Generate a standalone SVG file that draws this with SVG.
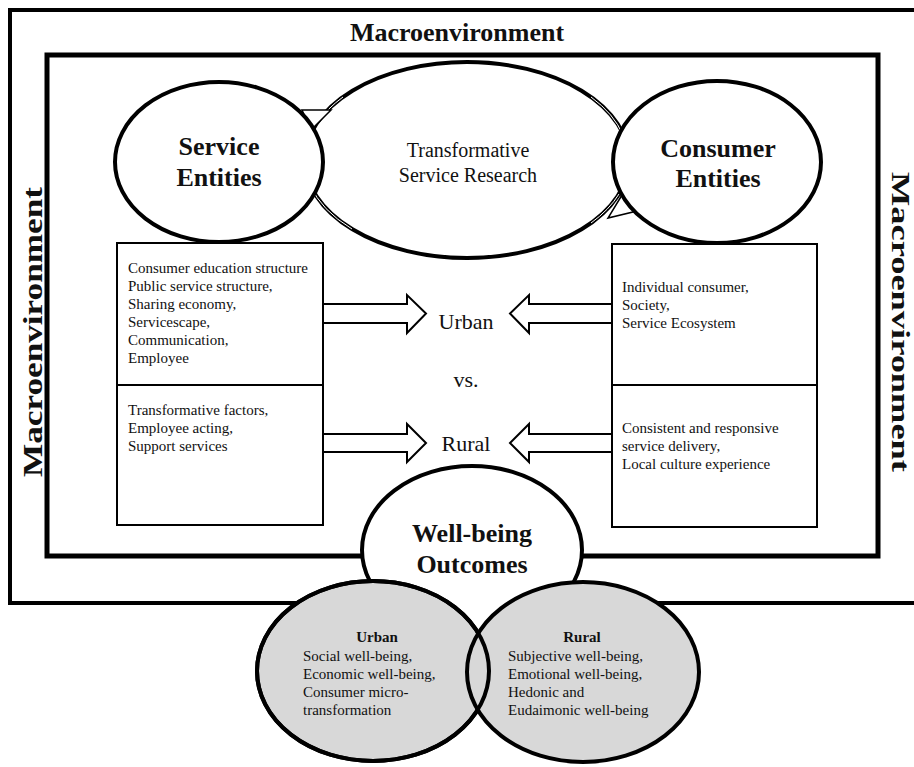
<svg xmlns="http://www.w3.org/2000/svg" width="914" height="767" viewBox="0 0 914 767">
<style>
.serif{font-family:"Liberation Serif","Times New Roman",serif;fill:#111}
.b{font-weight:bold}
.body{font-size:15px}
.big{font-size:26px;font-weight:bold;text-anchor:middle}
.frame{fill:none;stroke:#000}
.ell{fill:#fff;stroke:#000;stroke-width:4}
.gray{fill:#d8d8d8;stroke:#000;stroke-width:4}
.box{fill:#fff;stroke:#000;stroke-width:2}
.blk{fill:#fff;stroke:#000;stroke-width:2;stroke-linejoin:miter}
.head{fill:#fff;stroke:#000;stroke-width:1.5}
</style>
<rect width="914" height="767" fill="#fff"/>
<g id="macro-frame">
<rect class="frame" x="10" y="10" width="910" height="593" stroke-width="4"/>
<rect class="frame" x="47" y="55" width="831" height="501" stroke-width="5"/>
<text class="serif b" x="457" y="41" font-size="26" text-anchor="middle">Macroenvironment</text>
<text class="serif b" font-size="27" text-anchor="middle" textLength="290" lengthAdjust="spacingAndGlyphs" transform="translate(42,332) rotate(-90)">Macroenvironment</text>
<text class="serif b" font-size="26" text-anchor="middle" textLength="300" lengthAdjust="spacingAndGlyphs" transform="translate(892,322) rotate(90)">Macroenvironment</text>
</g>
<g id="tsr">
<ellipse cx="467" cy="160" rx="162" ry="98" fill="#fff" stroke="#000" stroke-width="4"/>
<path d="M343 97 A162 98 0 0 0 318 122 M591 97 A162 98 0 0 1 623 135 M310 185 A162 98 0 0 0 352 229 M591 223 A162 98 0 0 0 619 194" fill="none" stroke="#fff" stroke-width="1"/>
<polygon class="head" points="302,110 331,110 311,130"/>
<polygon class="head" points="622,195 608,218 637,211"/>
<text class="serif" x="468" y="157" font-size="20" text-anchor="middle">Transformative</text>
<text class="serif" x="468" y="182" font-size="20" text-anchor="middle">Service Research</text>
</g>
<g id="service-entities">
<ellipse class="ell" cx="219" cy="162" rx="104" ry="80"/>
<text class="serif big" x="219" y="155">Service</text>
<text class="serif big" x="219" y="186">Entities</text>
</g>
<g id="consumer-entities">
<ellipse class="ell" cx="717" cy="162" rx="104" ry="81"/>
<text class="serif big" x="718" y="157">Consumer</text>
<text class="serif big" x="718" y="187">Entities</text>
</g>
<g id="connectors">
<polygon class="blk" points="323,304 407,304 407,295 426,313.5 407,333 407,323 323,323"/>
<polygon class="blk" points="612,304 529,304 529,295 510,313.5 529,333 529,323 612,323"/>
<polygon class="blk" points="323,434 407,434 407,424 426,443 407,462 407,452 323,452"/>
<polygon class="blk" points="612,434 529,434 529,424 510,443 529,462 529,452 612,452"/>
</g>
<g id="service-urban-box">
<rect class="box" x="117" y="243" width="206" height="142"/>
<text class="serif body"><tspan x="128" y="273">Consumer education structure</tspan><tspan x="128" y="291">Public service structure,</tspan><tspan x="128" y="309">Sharing economy,</tspan><tspan x="128" y="327">Servicescape,</tspan><tspan x="128" y="345">Communication,</tspan><tspan x="128" y="363">Employee</tspan></text>
</g>
<g id="service-rural-box">
<rect class="box" x="117" y="385" width="206" height="140"/>
<text class="serif body"><tspan x="128" y="415">Transformative factors,</tspan><tspan x="128" y="433">Employee acting,</tspan><tspan x="128" y="451">Support services</tspan></text>
</g>
<g id="consumer-urban-box">
<rect class="box" x="612" y="244" width="205" height="141"/>
<text class="serif body"><tspan x="622" y="292">Individual consumer,</tspan><tspan x="622" y="310">Society,</tspan><tspan x="622" y="328">Service Ecosystem</tspan></text>
</g>
<g id="consumer-rural-box">
<rect class="box" x="612" y="385" width="205" height="142"/>
<text class="serif body"><tspan x="622" y="433">Consistent and responsive</tspan><tspan x="622" y="451">service delivery,</tspan><tspan x="622" y="469">Local culture experience</tspan></text>
</g>
<g id="urban-label"><text class="serif" x="466" y="329" font-size="22" text-anchor="middle">Urban</text></g>
<g id="vs-label"><text class="serif" x="466" y="387" font-size="22" text-anchor="middle">vs.</text></g>
<g id="rural-label"><text class="serif" x="466" y="451" font-size="22" text-anchor="middle">Rural</text></g>
<g id="well-being">
<ellipse class="ell" cx="472" cy="550" rx="110" ry="84"/>
<text class="serif big" x="472" y="542">Well-being</text>
<text class="serif big" x="472" y="573">Outcomes</text>
</g>
<g id="urban-outcomes">
<ellipse class="gray" cx="373" cy="671" rx="116" ry="90"/>
</g>
<g id="rural-outcomes">
<ellipse class="gray" cx="583" cy="672" rx="116" ry="90"/>
<ellipse cx="373" cy="671" rx="116" ry="90" fill="none" stroke="#000" stroke-width="4"/>
<text class="serif b" x="582" y="642" font-size="15" text-anchor="middle">Rural</text>
<text class="serif body"><tspan x="508" y="661">Subjective well-being,</tspan><tspan x="508" y="679">Emotional well-being,</tspan><tspan x="508" y="697">Hedonic and</tspan><tspan x="508" y="715">Eudaimonic well-being</tspan></text>
</g>
<g id="urban-outcomes-text">
<text class="serif b" x="377" y="642" font-size="15" text-anchor="middle">Urban</text>
<text class="serif body"><tspan x="303" y="661">Social well-being,</tspan><tspan x="303" y="679">Economic well-being,</tspan><tspan x="303" y="697">Consumer micro-</tspan><tspan x="303" y="715">transformation</tspan></text>
</g>
</svg>
